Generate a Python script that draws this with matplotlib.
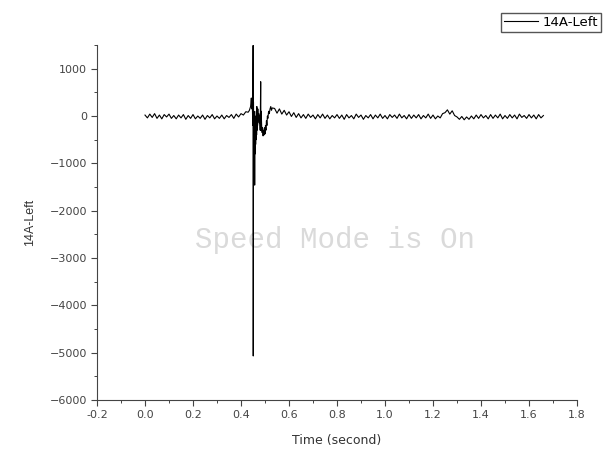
import numpy as np
import matplotlib
matplotlib.use("Agg")
import matplotlib.pyplot as plt
from matplotlib.ticker import MultipleLocator

# sampled signal, 0.01 s between baseline samples
step = 0.01

# baseline before the hit, t = 0.00 .. 0.42
pre_start = 0.0
pre_vals = [20, -40, 40, -30, 50, -50, 20, -60, 30, -20,
            40, -50, 10, -60, 20, -40, 30, -70, 10, -50,
            30, -60, 0, -50, 20, -70, 10, -40, 30, -60,
            0, -50, 20, -60, 10, -30, 30, -50, 40, -20,
            50, 20, 90]

# the hit itself, read point by point
hit_t = [0.430, 0.435, 0.440, 0.443, 0.445, 0.447, 0.449, 0.4505, 0.4510, 0.4515,
         0.452, 0.453, 0.454, 0.455, 0.456, 0.457, 0.458, 0.459, 0.460, 0.461,
         0.462, 0.463, 0.464, 0.465, 0.466, 0.467, 0.468, 0.469, 0.470, 0.472,
         0.474, 0.476, 0.478, 0.480, 0.481, 0.482, 0.483, 0.484, 0.486, 0.488,
         0.490, 0.492, 0.494, 0.496, 0.498, 0.500, 0.502, 0.504, 0.506, 0.508,
         0.510, 0.512, 0.515, 0.518, 0.521, 0.524, 0.527, 0.530]
hit_v = [80, 120, 200, 380, 150, 300, -200, 1490, -5070, -100,
         300, -900, 100, -600, -200, -1460, -300, -800, -100, -600,
         0, -500, 100, -400, 200, -300, 100, -200, 150, -100,
         50, -150, 0, -300, 300, 725, -300, 100, -200, -350,
         -250, -420, -300, -400, -250, -380, -200, -300, -100, -200,
         0, -50, 100, 50, 150, 200, 120, 170]

# baseline after the hit, t = 0.54 .. 1.66
post_start = 0.54
post_vals = [160, 60, 150, 40, 120, 20, 90, -10, 70, -30,
             50, -40, 30, -50, 40, -30, 20, -60, 30, -40,
             40, -50, 20, -60, 10, -40, 30, -50, 20, -70,
             30, -40, 10, -60, 40, -30, 20, -70, 10, -40,
             30, -60, 20, -40, 40, -50, 10, -60, 30, -30,
             20, -50, 40, -40, 10, -60, 30, -50, 20, -40,
             30, -60, 10, -40, 40, -50, 20, -60, 0, -40,
             50, 70, 130, 40, 110, 10, -20, -70, -10, -80,
             -20, -70, 0, -60, 20, -50, 30, -40, 10, -60,
             30, -50, 20, -40, 40, -60, 10, -50, 30, -40,
             20, -60, 40, -30, 10, -50, 30, -40, 20, -60,
             30, -40, 10]

t = np.concatenate([pre_start + step * np.arange(len(pre_vals)),
                    hit_t,
                    post_start + step * np.arange(len(post_vals))])
v = np.concatenate([pre_vals, hit_v, post_vals])

fig = plt.figure(figsize=(6.04, 4.53), dpi=100)
ax = fig.add_axes([97 / 604, 1 - 400 / 453, 480 / 604, 355 / 453])

ax.text(0.496, 0.45, "Speed Mode is On", transform=ax.transAxes,
        ha="center", va="center", fontsize=21, color="#dadada",
        family="Liberation Mono", zorder=0)

line, = ax.plot(t, v, color="black", lw=0.8, label="14A-Left", zorder=2)

ax.set_xlim(-0.2, 1.8)
ax.set_ylim(-6000, 1500)
ax.xaxis.set_major_locator(MultipleLocator(0.2))
ax.xaxis.set_minor_locator(MultipleLocator(0.1))
ax.yaxis.set_major_locator(MultipleLocator(1000))
ax.yaxis.set_minor_locator(MultipleLocator(500))
ax.xaxis.set_major_formatter(plt.FuncFormatter(lambda x, p: f"{x:.1f}"))

for s in ["top", "right"]:
    ax.spines[s].set_visible(False)
for s in ["left", "bottom"]:
    ax.spines[s].set_color("#444444")
    ax.spines[s].set_linewidth(0.8)

ax.tick_params(which="major", direction="out", length=4, width=0.8,
               color="#444444", labelsize=8, labelcolor="#444444", pad=3)
ax.tick_params(which="minor", direction="out", length=2.5, width=0.7,
               color="#444444")

ax.set_xlabel("Time (second)", fontsize=9, color="#333333")
ax.set_ylabel("14A-Left", fontsize=9, color="#333333",
              family="Liberation Sans")
ax.xaxis.set_label_coords(0.5, -0.095)
ax.yaxis.set_label_coords(-0.127, 0.5)

fig.legend(handles=[line], loc="upper left",
           bbox_to_anchor=(494 / 604, 1 - 6 / 453),
           handlelength=2.6, handletextpad=0.3, borderpad=0.25,
           fancybox=False, edgecolor="#555555", framealpha=1,
           prop={"size": 9.5})

fig.savefig("out.png", dpi=100)
